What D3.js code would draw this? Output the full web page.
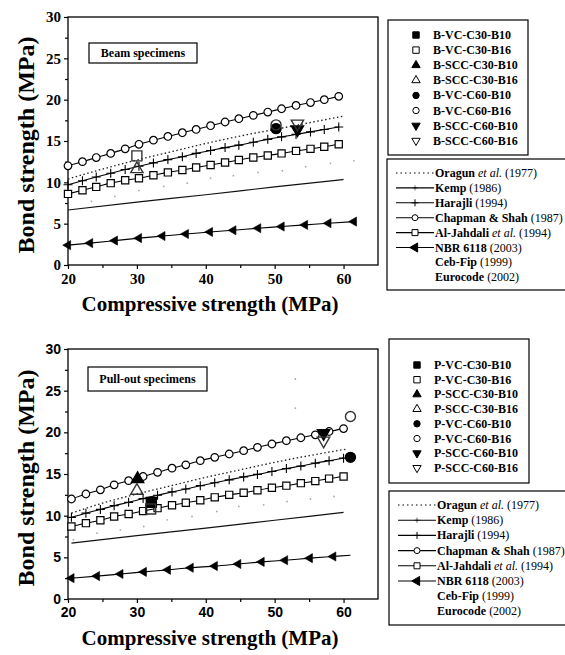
<!DOCTYPE html>
<html>
<head>
<meta charset="utf-8">
<script src="https://cdn.jsdelivr.net/npm/d3@7"></script>
<style>
  body { margin: 0; background: #fff; }
</style>
</head>
<body>
<svg id="chart" width="565" height="655"></svg>
<script>
// ---- model curves, beam panel ----
const beamMarkX   = [20, 22.1, 24.1, 26.2, 28.3, 30.3, 32.4, 34.5, 36.6, 38.6, 40.7, 42.8, 44.8, 46.9, 49.0, 51.0, 53.1, 55.2, 57.2, 59.3]
const beamChapman = [12.0, 12.5, 13.0, 13.5, 14.05, 14.6, 15.1, 15.55, 16.0, 16.4, 16.85, 17.3, 17.7, 18.1, 18.5, 18.9, 19.3, 19.65, 20.0, 20.4]
const beamHarajli = [9.7, 10.2, 10.65, 11.1, 11.55, 11.95, 12.35, 12.75, 13.1, 13.5, 13.85, 14.2, 14.5, 14.85, 15.2, 15.5, 15.8, 16.1, 16.4, 16.7]
const beamJahdali = [8.6, 9.05, 9.45, 9.9, 10.25, 10.5, 10.85, 11.2, 11.5, 11.8, 12.1, 12.4, 12.7, 13.0, 13.25, 13.5, 13.8, 14.05, 14.3, 14.6]
const beamOragunX = [20, 25, 30, 35, 40, 45, 50, 55, 60]
const beamOragun  = [10.4, 11.6, 12.7, 13.7, 14.7, 15.6, 16.4, 17.2, 18.0]
const beamKempX   = [20, 30, 40, 50, 60]
const beamKemp    = [6.65, 7.6, 8.5, 9.45, 10.35]
const beamNbrX    = [20, 23.2, 26.8, 30.3, 33.7, 37.1, 40.6, 44.0, 47.6, 51.0, 54.4, 57.8, 61.5]
const beamNbr     = [2.4, 2.65, 2.95, 3.25, 3.5, 3.75, 4.0, 4.2, 4.45, 4.65, 4.85, 5.05, 5.25]
const beamCebX    = [23.4, 26.8, 30.3, 33.9, 37.3, 40.7, 44.0, 47.6, 51.1, 54.5, 58.1, 61.5]
const beamCeb     = [7.7, 8.3, 9.0, 9.5, 9.9, 10.5, 10.8, 11.2, 11.4, 11.9, 12.3, 12.6]

// ---- model curves, pull-out panel ----
const pullMarkX   = [20.5, 22.6, 24.7, 26.7, 28.8, 30.9, 33.0, 35.1, 37.1, 39.2, 41.3, 43.4, 45.5, 47.5, 49.6, 51.7, 53.8, 55.9, 57.9, 60.0]
const pullChapman = [12.0, 12.6, 13.1, 13.7, 14.2, 14.7, 15.2, 15.7, 16.1, 16.6, 17.0, 17.4, 17.8, 18.2, 18.6, 19.0, 19.35, 19.7, 20.1, 20.45]
const pullHarajli = [9.8, 10.3, 10.75, 11.2, 11.6, 12.05, 12.45, 12.85, 13.2, 13.6, 13.95, 14.3, 14.65, 14.95, 15.3, 15.65, 15.95, 16.3, 16.6, 16.9]
const pullJahdali = [8.7, 9.1, 9.45, 9.9, 10.2, 10.55, 10.9, 11.25, 11.55, 11.85, 12.2, 12.5, 12.75, 13.05, 13.35, 13.6, 13.9, 14.15, 14.45, 14.7]
const pullOragunX = [20.5, 25, 30, 35, 40, 45, 50, 55, 60.5]
const pullOragun  = [10.3, 11.5, 12.6, 13.6, 14.6, 15.5, 16.4, 17.2, 18.0]
const pullKempX   = [20.5, 30, 40, 50, 60]
const pullKemp    = [6.7, 7.6, 8.5, 9.45, 10.4]
const pullNbrX    = [20.5, 24.2, 27.6, 31.0, 34.5, 37.8, 41.3, 44.7, 48.1, 51.5, 55.1, 58.5, 61.0]
const pullNbr     = [2.5, 2.75, 3.0, 3.25, 3.5, 3.75, 3.95, 4.2, 4.45, 4.65, 4.9, 5.1, 5.25]
const pullCebX    = [20.8, 24.2, 27.6, 31.0, 34.4, 38.0, 41.6, 44.8, 48.4, 51.8, 55.2, 58.6, 53, 53]
const pullCeb     = [7.1, 7.9, 8.3, 8.7, 9.5, 9.9, 10.5, 11.1, 11.3, 11.7, 12.0, 12.3, 26.4, 22.9]

// ---- test results ----
const beamNames = ['B-VC-C30-B10', 'B-VC-C30-B16', 'B-SCC-C30-B10', 'B-SCC-C30-B16', 'B-VC-C60-B10', 'B-VC-C60-B16', 'B-SCC-C60-B10', 'B-SCC-C60-B16']
const beamExpX  = [null, 30, null, 30, 50.2, 50.2, 53.3, 53.3]
const beamExpY  = [null, 13.2, null, 11.6, 16.5, 16.95, 16.4, 17.1]
const pullNames = ['P-VC-C30-B10', 'P-VC-C30-B16', 'P-SCC-C30-B10', 'P-SCC-C30-B16', 'P-VC-C60-B10', 'P-VC-C60-B16', 'P-SCC-C60-B10', 'P-SCC-C60-B16']
const pullExpX  = [32.1, 32.0, 30.1, 30.0, 61.0, 61.0, 57.1, 57.1]
const pullExpY  = [11.6, 10.8, 14.4, 13.0, 17.0, 21.9, 19.9, 19.0]

// ---- legend text ----
const modelNames = ['Oragun', 'Kemp', 'Harajli', 'Chapman & Shah', 'Al-Jahdali', 'NBR 6118', 'Ceb-Fip', 'Eurocode']
const modelEtAl  = [true, false, false, false, true, false, false, false]
const modelYears = ['(1977)', '(1986)', '(1994)', '(1987)', '(1994)', '(2003)', '(1999)', '(2002)']

const yTicks = [0, 5, 10, 15, 20, 25, 30]
const yMinor = [2.5, 7.5, 12.5, 17.5, 22.5, 27.5]
const xTicks = [20, 30, 40, 50, 60]
const xMinor = [25, 35, 45, 55]

const expShapes = ['square', 'square', 'triUp', 'triUp', 'circle', 'circle', 'triDown', 'triDown']
const expFilled = [true, false, true, false, true, false, true, false]

const SERIF = '"Liberation Serif", "Times New Roman", Times, "DejaVu Serif", serif'
const SANS = '"Liberation Sans", Arial, Helvetica, sans-serif'

const svg = d3.select('#chart')

const zip = (xs, ys) => xs.map((x, i) => [x, ys[i]])

// every piece of text goes through here so the font is set inline
const txt = (g, size, fam) => g.append('text')
  .style('font-family', fam || SERIF).style('font-weight', 'bold')
  .style('font-size', size + 'px').attr('fill', '#000')

// path string for one marker centred at 0,0
const markerPath = (shape, s) => {
  if (shape === 'plus') return `M${-s},0H${s}M0,${-s}V${s}`
  if (shape === 'circle') return d3.symbol(d3.symbolCircle, Math.PI * s * s)()
  if (shape === 'square') return d3.symbol(d3.symbolSquare, 4 * s * s)()
  return d3.symbol(d3.symbolTriangle, s * s * 1.7)()
}
const markerRot = shape => shape === 'triDown' ? 180 : shape === 'triLeft' ? -90 : 0

function drawMarks(g, pts, shape, s, filled, sw) {
  g.append('g').selectAll('path')
    .data(pts)
    .join('path')
    .attr('transform', d => `translate(${d[0]},${d[1]}) rotate(${markerRot(shape)})`)
    .attr('d', markerPath(shape, s))
    .attr('fill', filled ? '#000' : (shape === 'plus' ? 'none' : '#fff'))
    .attr('stroke', '#000')
    .attr('stroke-width', sw)
}

function panel(cfg) {
  const x = d3.scaleLinear([20, 65], [68, 378])
  const y = d3.scaleLinear([0, 30], [cfg.bottom, cfg.top])
  const g = svg.append('g')
  const line = d3.line().x(d => x(d[0])).y(d => y(d[1])).curve(d3.curveMonotoneX)

  // axes
  const tickFont = cfg.sans ? SANS : SERIF
  const ya = g.append('g').attr('transform', 'translate(68,0)')
    .call(d3.axisLeft(y).tickValues(yTicks).tickSize(4).tickPadding(3).tickFormat(d3.format('d')))
  g.append('g').attr('transform', 'translate(68,0)')
    .call(d3.axisLeft(y).tickValues(yMinor).tickSize(3).tickFormat(''))
  const xa = g.append('g').attr('transform', `translate(0,${cfg.bottom})`)
    .call(d3.axisBottom(x).tickValues(xTicks).tickSize(4).tickPadding(4))
  g.append('g').attr('transform', `translate(0,${cfg.bottom})`)
    .call(d3.axisBottom(x).tickValues(xMinor).tickSize(3).tickFormat(''))
  g.selectAll('.domain').remove()
  g.selectAll('.tick line').attr('stroke', '#000').attr('stroke-width', 1.2)
  ;[ya, xa].forEach(a => a.selectAll('text')
    .style('font-family', tickFont).style('font-weight', 'bold')
    .style('font-size', cfg.sans ? '14px' : '15px').attr('fill', '#000'))

  g.append('rect')
    .attr('x', 68).attr('y', cfg.top)
    .attr('width', 310).attr('height', cfg.bottom - cfg.top)
    .attr('fill', 'none').attr('stroke', '#000').attr('stroke-width', 1.3)

  // axis titles
  txt(g, 21)
    .attr('x', 210).attr('y', cfg.bottom + 46)
    .attr('text-anchor', 'middle')
    .text('Compressive strength (MPa)')
  txt(g, 24)
    .attr('transform', `translate(34,${(cfg.top + cfg.bottom) / 2 + 4}) rotate(-90)`)
    .attr('text-anchor', 'middle')
    .text('Bond strength (MPa)')

  // specimen label box
  g.append('rect')
    .attr('x', cfg.labelBox[0]).attr('y', cfg.labelBox[1])
    .attr('width', cfg.labelBox[2]).attr('height', cfg.labelBox[3])
    .attr('fill', '#fff').attr('stroke', '#000').attr('stroke-width', 1.2)
  txt(g, 12)
    .attr('x', cfg.labelBox[0] + cfg.labelBox[2] / 2).attr('y', cfg.labelBox[1] + cfg.labelBox[3] / 2 + 4)
    .attr('text-anchor', 'middle')
    .text(cfg.label)

  const d = cfg.data
  const P = pts => pts.map(p => [x(p[0]), y(p[1])])

  // Ceb-Fip faint dots
  g.append('g').selectAll('circle')
    .data(P(zip(d.cebX, d.ceb)))
    .join('circle')
    .attr('cx', p => p[0]).attr('cy', p => p[1]).attr('r', 0.9)
    .attr('fill', '#aaa')

  // Kemp
  g.append('path').datum(zip(d.kempX, d.kemp))
    .attr('d', line).attr('fill', 'none').attr('stroke', '#111').attr('stroke-width', 1.2)
  // Oragun dotted
  g.append('path').datum(zip(d.oragunX, d.oragun))
    .attr('d', line).attr('fill', 'none').attr('stroke', '#222').attr('stroke-width', 1.3)
    .attr('stroke-dasharray', '1.5,2.5')
  // NBR with left triangles
  g.append('path').datum(zip(d.nbrX, d.nbr))
    .attr('d', line).attr('fill', 'none').attr('stroke', '#000').attr('stroke-width', 1.1)
  drawMarks(g, P(zip(d.nbrX, d.nbr)).slice(0, d.nbrMarks), 'triLeft', 4.6, true, 0.6)
  // Al-Jahdali squares
  g.append('path').datum(zip(d.markX, d.jahdali))
    .attr('d', line).attr('fill', 'none').attr('stroke', '#000').attr('stroke-width', 1.1)
  drawMarks(g, P(zip(d.markX, d.jahdali)), 'square', 3.6, false, 1.2)
  // Harajli plus
  g.append('path').datum(zip(d.markX, d.harajli))
    .attr('d', line).attr('fill', 'none').attr('stroke', '#000').attr('stroke-width', 1.1)
  drawMarks(g, P(zip(d.markX, d.harajli)), 'plus', 4.5, false, 1.1)
  // Chapman circles
  g.append('path').datum(zip(d.markX, d.chapman))
    .attr('d', line).attr('fill', 'none').attr('stroke', '#000').attr('stroke-width', 1.1)
  drawMarks(g, P(zip(d.markX, d.chapman)), 'circle', 3.8, false, 1.2)

  // test results
  cfg.expX.forEach((v, i) => {
    if (v === null) return
    const s = expShapes[i].startsWith('tri') ? 6.2 : 5
    g.append('path')
      .attr('transform', `translate(${x(v)},${y(cfg.expY[i])}) rotate(${markerRot(expShapes[i])})`)
      .attr('d', markerPath(expShapes[i], s))
      .attr('fill', expFilled[i] ? '#000' : 'none')
      .attr('stroke', expFilled[i] ? '#000' : '#333').attr('stroke-width', 1.4)
  })

  // legend: test results
  const L1 = cfg.leg1
  g.append('rect').attr('x', L1.x).attr('y', L1.y).attr('width', L1.w).attr('height', L1.h)
    .attr('fill', '#fff').attr('stroke', '#000').attr('stroke-width', 1.2)
  cfg.names.forEach((n, i) => {
    const ry = L1.row0 + i * L1.step
    g.append('path')
      .attr('transform', `translate(${L1.x + 28},${ry}) rotate(${markerRot(expShapes[i])})`)
      .attr('d', markerPath(expShapes[i], expShapes[i].startsWith('tri') ? 4.2 : 3.2))
      .attr('fill', expFilled[i] ? '#000' : '#fff')
      .attr('stroke', '#000').attr('stroke-width', 1)
    txt(g, 12).attr('x', L1.x + 45).attr('y', ry + 4).text(n)
  })

  // legend: models
  const L2 = cfg.leg2
  g.append('rect').attr('x', L2.x).attr('y', L2.y).attr('width', L2.w).attr('height', L2.h)
    .attr('fill', '#fff').attr('stroke', '#000').attr('stroke-width', 1.2)
  const sampleShapes = [null, 'plus', 'plus', 'circle', 'square', 'triLeft', null, null]
  modelNames.forEach((n, i) => {
    const ry = L2.row0 + i * L2.step
    const x0 = L2.x + 9, x1 = L2.x + 47
    if (i < 6) {
      g.append('line').attr('x1', x0).attr('x2', x1).attr('y1', ry).attr('y2', ry)
        .attr('stroke', '#000').attr('stroke-width', 1.1)
        .attr('stroke-dasharray', i === 0 ? '1.5,3' : null)
      if (sampleShapes[i]) {
        const sh = sampleShapes[i]
        g.append('path')
          .attr('transform', `translate(${(x0 + x1) / 2},${ry}) rotate(${markerRot(sh)})`)
          .attr('d', markerPath(sh, sh === 'triLeft' ? 4.6 : sh === 'plus' ? (i === 1 ? 2.5 : 3.5) : 3))
          .attr('fill', sh === 'triLeft' ? '#000' : sh === 'plus' ? 'none' : '#fff')
          .attr('stroke', '#000').attr('stroke-width', i === 1 ? 0.6 : 1)
      }
    }
    const t = txt(g, 12).attr('x', L2.x + 48).attr('y', ry + 4)
    t.append('tspan').text(n)
    if (modelEtAl[i]) t.append('tspan').style('font-style', 'italic').style('font-weight', 'normal').text(' et al.')
    t.append('tspan').style('font-weight', 'normal').text(' ' + modelYears[i])
  })
}

panel({
  top: 17, bottom: 265, sans: false,
  label: 'Beam specimens', labelBox: [89, 43, 108, 20],
  names: beamNames, expX: beamExpX, expY: beamExpY,
  leg1: { x: 388, y: 20, w: 140, h: 135, row0: 35, step: 15.1 },
  leg2: { x: 387, y: 159, w: 200, h: 131, row0: 173, step: 14.9 },
  data: {
    markX: beamMarkX, chapman: beamChapman, harajli: beamHarajli, jahdali: beamJahdali,
    oragunX: beamOragunX, oragun: beamOragun, kempX: beamKempX, kemp: beamKemp,
    nbrX: beamNbrX, nbr: beamNbr, nbrMarks: 13, cebX: beamCebX, ceb: beamCeb
  }
})

panel({
  top: 349, bottom: 599, sans: true,
  label: 'Pull-out specimens', labelBox: [88, 367, 119, 24],
  names: pullNames, expX: pullExpX, expY: pullExpY,
  leg1: { x: 389, y: 339, w: 140, h: 144, row0: 365, step: 14.7 },
  leg2: { x: 389, y: 491, w: 200, h: 134, row0: 505, step: 15.2 },
  data: {
    markX: pullMarkX, chapman: pullChapman, harajli: pullHarajli, jahdali: pullJahdali,
    oragunX: pullOragunX, oragun: pullOragun, kempX: pullKempX, kemp: pullKemp,
    nbrX: pullNbrX, nbr: pullNbr, nbrMarks: 12, cebX: pullCebX, ceb: pullCeb
  }
})
</script>
</body>
</html>
